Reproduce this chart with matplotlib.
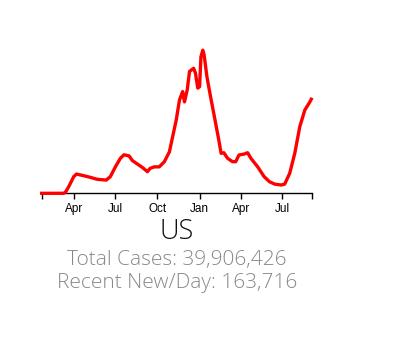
import pandas as pd
import matplotlib
matplotlib.use("Agg")
import matplotlib.pyplot as plt

# daily new cases, 7-day average (thousands)
dates = ["2020-01-22", "2020-03-10", "2020-03-14", "2020-03-21", "2020-04-01",
         "2020-04-07", "2020-04-23", "2020-05-07", "2020-05-22", "2020-06-11",
         "2020-06-20", "2020-07-01", "2020-07-12", "2020-07-20", "2020-07-31",
         "2020-08-07", "2020-08-18", "2020-08-29", "2020-09-09", "2020-09-15",
         "2020-09-24", "2020-10-05", "2020-10-16", "2020-10-27", "2020-11-03",
         "2020-11-11", "2020-11-18", "2020-11-25", "2020-11-29", "2020-12-05",
         "2020-12-10", "2020-12-19", "2020-12-23", "2020-12-28", "2021-01-01",
         "2021-01-04", "2021-01-08", "2021-01-11", "2021-01-17", "2021-01-25",
         "2021-02-01", "2021-02-12", "2021-02-17", "2021-02-23", "2021-03-03",
         "2021-03-14", "2021-03-21", "2021-03-28", "2021-04-09", "2021-04-16",
         "2021-04-23", "2021-05-08", "2021-05-22", "2021-06-03", "2021-06-14",
         "2021-06-28", "2021-07-06", "2021-07-17", "2021-07-28", "2021-08-08",
         "2021-08-19", "2021-08-30", "2021-09-02"]
new_cases_k = [0, 0, 2, 11.5, 29,
               33.5, 30.6, 27.8, 24.4, 23,
               29, 46, 61, 67, 65,
               57, 51, 45, 37.6, 43.5,
               46, 46, 55, 72, 98,
               127.5, 162, 177, 159, 180,
               212, 217.5, 209, 183, 185.5,
               237.7, 249, 240.6, 203, 168,
               139, 92.7, 69.6, 70.6, 61,
               55, 55, 66.6, 68.4, 70.6,
               61, 46, 29, 20, 16,
               14.4, 16, 35, 69.6, 116,
               145, 159, 163.7]

tick_dates = ["2020-04-01", "2020-07-01", "2020-10-01", "2021-01-01", "2021-04-01", "2021-07-01"]
tick_labels = ["Apr", "Jul", "Oct", "Jan", "Apr", "Jul"]

region = "US"
total_cases = 39906426
recent_per_day = 163716

x = pd.to_datetime(dates)
x_start = pd.Timestamp("2020-01-22")
x_end = pd.Timestamp("2021-09-03")

fig = plt.figure(figsize=(3.99, 3.51), dpi=100)
ax = fig.add_axes([0.1045, 0.4493, 0.6767, 0.4257])

ax.plot(x, new_cases_k, color="#ff0000", linewidth=2.4, clip_on=False, zorder=3,
        solid_joinstyle="round")

ax.set_xlim(x_start, x_end)
ax.set_ylim(0, 260)

ticks = [x_start] + list(pd.to_datetime(tick_dates)) + [x_end]
ax.set_xticks(ticks)
ax.set_xticklabels([""] + tick_labels + [""], fontsize=8.5, family="Liberation Sans")
ax.tick_params(axis="x", length=4.5, width=1, color="black", pad=2.5)
ax.set_yticks([])

for side in ["left", "right", "top"]:
    ax.spines[side].set_visible(False)
ax.spines["bottom"].set_linewidth(1)
ax.spines["bottom"].set_color("black")
ax.patch.set_alpha(0)

xc = 0.1045 + 0.6767 / 2
fig.text(xc, 1 - 232 / 351, region, ha="center", va="center",
         fontsize=19.5, family="Open Sans", fontweight="light", color="#111111")
fig.text(xc, 1 - 260 / 351, f"Total Cases: {total_cases:,}", ha="center", va="center",
         fontsize=15, family="Open Sans", fontweight="light", color="#888888")
fig.text(xc, 1 - 283 / 351, f"Recent New/Day: {recent_per_day:,}", ha="center", va="center",
         fontsize=15, family="Open Sans", fontweight="light", color="#888888")

fig.savefig("out.png", dpi=100)
